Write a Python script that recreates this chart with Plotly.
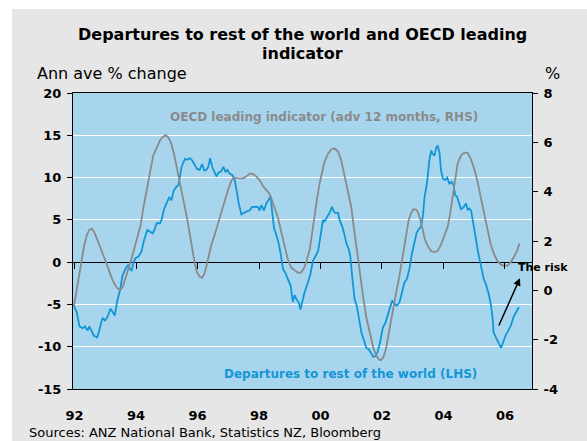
import plotly.graph_objects as go

# ---- data ----
dep_year = [1991.98, 1992.07, 1992.16, 1992.27, 1992.34, 1992.42, 1992.48, 1992.56, 1992.63, 1992.74,
            1992.83, 1992.91, 1992.99, 1993.07, 1993.17, 1993.24, 1993.31, 1993.39, 1993.48, 1993.56,
            1993.67, 1993.75, 1993.80, 1993.86, 1993.91, 1993.99, 1994.09, 1994.18, 1994.26, 1994.37,
            1994.45, 1994.54, 1994.61, 1994.67, 1994.78, 1994.83, 1994.91, 1994.99, 1995.08, 1995.15,
            1995.23, 1995.31, 1995.38, 1995.48, 1995.59, 1995.67, 1995.75, 1995.83, 1995.91, 1995.98,
            1996.07, 1996.15, 1996.22, 1996.29, 1996.35, 1996.41, 1996.48, 1996.54, 1996.62, 1996.67,
            1996.76, 1996.84, 1996.91, 1996.97, 1997.05, 1997.13, 1997.21, 1997.28, 1997.34, 1997.43,
            1997.51, 1997.60, 1997.69, 1997.77, 1997.88, 1997.97, 1998.02, 1998.08, 1998.16, 1998.24,
            1998.32, 1998.38, 1998.42, 1998.49, 1998.56, 1998.64, 1998.70, 1998.78, 1998.86, 1998.94,
            1999.03, 1999.10, 1999.16, 1999.22, 1999.29, 1999.35, 1999.42, 1999.48, 1999.59, 1999.67,
            1999.75, 1999.84, 1999.92, 1999.99, 2000.08, 2000.13, 2000.19, 2000.24, 2000.30, 2000.37,
            2000.43, 2000.49, 2000.57, 2000.62, 2000.71, 2000.78, 2000.84, 2000.92, 2000.97, 2001.03,
            2001.11, 2001.18, 2001.25, 2001.33, 2001.40, 2001.49, 2001.57, 2001.65, 2001.72, 2001.79,
            2001.86, 2001.94, 2002.03, 2002.11, 2002.19, 2002.27, 2002.33, 2002.41, 2002.48, 2002.57,
            2002.65, 2002.73, 2002.81, 2002.89, 2002.98, 2003.06, 2003.13, 2003.20, 2003.27, 2003.33,
            2003.38, 2003.47, 2003.54, 2003.60, 2003.65, 2003.71, 2003.76, 2003.81, 2003.87, 2003.92,
            2003.98, 2004.05, 2004.12, 2004.19, 2004.27, 2004.33, 2004.38, 2004.44, 2004.49, 2004.57,
            2004.66, 2004.73, 2004.79, 2004.84, 2004.90, 2004.98, 2005.06, 2005.13, 2005.22, 2005.31,
            2005.38, 2005.46, 2005.54, 2005.60, 2005.63, 2005.71, 2005.78, 2005.87, 2005.96, 2006.03,
            2006.11, 2006.19, 2006.28, 2006.36, 2006.43, 2006.47]
dep_value = [-5.2, -5.9, -7.6, -7.8, -7.6, -8.1, -7.6, -8.3, -8.7, -8.9,
             -7.5, -6.6, -6.9, -6.5, -5.5, -5.9, -6.3, -4.6, -3.3, -1.6,
             -0.7, -0.3, -0.8, -1.05, -0.1, 0.5, 0.7, 1.3, 2.6, 3.8,
             3.6, 3.4, 3.9, 4.6, 4.6, 5.0, 6.25, 6.95, 7.7, 7.3,
             8.5, 8.9, 9.1, 11.25, 12.2, 12.1, 12.3, 12.0, 11.45, 11.05,
             10.9, 11.6, 10.85, 10.9, 11.25, 12.3, 11.25, 10.8, 10.1, 10.55,
             10.7, 11.25, 10.7, 10.9, 10.45, 10.3, 9.7, 8.3, 6.95, 5.65,
             5.85, 6.0, 6.1, 6.5, 6.55, 6.5, 6.1, 6.75, 6.1, 6.95,
             7.4, 7.75, 6.25, 4.0, 3.25, 2.25, 1.1, -0.8, -1.3, -2.0,
             -2.8, -4.7, -3.9, -4.4, -4.75, -5.6, -4.55, -3.6, -2.4, -1.45,
             0.1, 0.7, 1.3, 2.85, 5.0, 4.8, 5.2, 5.6, 5.85, 6.55,
             6.0, 5.8, 5.85, 5.0, 4.2, 3.25, 2.25, 1.5, 0.7, -1.65,
             -4.4, -5.15, -6.7, -8.3, -9.05, -10.15, -10.3, -10.8, -11.2, -11.1,
             -10.6, -9.45, -7.7, -7.2, -6.3, -5.15, -4.55, -4.95, -5.15, -4.75,
             -3.6, -2.4, -2.0, -0.85, 1.1, 2.6, 3.5, 3.9, 4.2, 5.4,
             7.55, 9.5, 12.0, 13.2, 12.8, 12.6, 13.5, 13.8, 13.0, 10.85,
             9.9, 9.7, 10.0, 9.3, 9.5, 9.1, 7.9, 7.75, 7.15, 6.25,
             6.5, 6.95, 6.2, 6.35, 6.1, 4.6, 2.65, 1.1, -0.45, -2.0,
             -2.6, -3.6, -4.95, -6.7, -8.3, -8.85, -9.45, -10.15, -9.25, -8.6,
             -8.1, -7.5, -6.5, -5.85, -5.45, -5.35]

oecd_year = [1991.98, 1992.07, 1992.16, 1992.23, 1992.31, 1992.40, 1992.48, 1992.56, 1992.63, 1992.72,
             1992.83, 1992.94, 1993.04, 1993.15, 1993.26, 1993.37, 1993.48, 1993.56, 1993.64, 1993.75,
             1993.86, 1993.96, 1994.07, 1994.15, 1994.24, 1994.34, 1994.45, 1994.56, 1994.67, 1994.78,
             1994.88, 1994.97, 1995.06, 1995.15, 1995.26, 1995.37, 1995.48, 1995.59, 1995.67, 1995.75,
             1995.83, 1995.91, 1995.98, 1996.07, 1996.15, 1996.22, 1996.29, 1996.37, 1996.45, 1996.56,
             1996.67, 1996.78, 1996.89, 1996.99, 1997.10, 1997.19, 1997.27, 1997.37, 1997.48, 1997.59,
             1997.70, 1997.81, 1997.91, 1998.02, 1998.13, 1998.24, 1998.35, 1998.42, 1998.51, 1998.62,
             1998.73, 1998.84, 1998.94, 1999.05, 1999.16, 1999.27, 1999.38, 1999.48, 1999.56, 1999.65,
             1999.73, 1999.81, 1999.89, 1999.97, 2000.06, 2000.13, 2000.24, 2000.35, 2000.46, 2000.57,
             2000.67, 2000.78, 2000.89, 2001.00, 2001.08, 2001.16, 2001.25, 2001.33, 2001.40, 2001.49,
             2001.57, 2001.65, 2001.72, 2001.81, 2001.90, 2001.97, 2002.05, 2002.13, 2002.22, 2002.30,
             2002.37, 2002.46, 2002.55, 2002.62, 2002.70, 2002.79, 2002.87, 2002.95, 2003.02, 2003.11,
             2003.16, 2003.25, 2003.33, 2003.40, 2003.49, 2003.60, 2003.70, 2003.81, 2003.92, 2004.03,
             2004.14, 2004.22, 2004.30, 2004.38, 2004.46, 2004.57, 2004.68, 2004.79, 2004.90, 2005.00,
             2005.11, 2005.22, 2005.33, 2005.44, 2005.54, 2005.65, 2005.76, 2005.87, 2005.98, 2006.09,
             2006.19, 2006.30, 2006.39, 2006.47]
oecd_value = [-0.64, 0.05, 0.71, 1.25, 1.79, 2.24, 2.45, 2.50, 2.38, 2.12,
              1.79, 1.45, 1.09, 0.71, 0.35, 0.11, 0.01, 0.11, 0.46, 0.87,
              1.31, 1.79, 2.24, 2.65, 3.34, 4.06, 4.74, 5.46, 5.81, 6.08,
              6.23, 6.29, 6.18, 5.94, 5.39, 4.74, 4.09, 3.34, 2.86, 2.26,
              1.66, 1.11, 0.73, 0.56, 0.51, 0.65, 0.99, 1.38, 1.85, 2.26,
              2.72, 3.27, 3.66, 4.06, 4.43, 4.57, 4.55, 4.54, 4.54, 4.62,
              4.73, 4.71, 4.62, 4.47, 4.23, 4.06, 3.90, 3.66, 3.34, 2.93,
              2.33, 1.73, 1.25, 0.92, 0.80, 0.71, 0.73, 0.94, 1.25, 1.66,
              2.33, 3.13, 3.73, 4.33, 4.86, 5.21, 5.53, 5.72, 5.75, 5.63,
              5.29, 4.67, 4.06, 3.39, 2.58, 1.79, 1.11, 0.32, -0.37, -1.09,
              -1.57, -1.96, -2.34, -2.63, -2.80, -2.83, -2.70, -2.37, -1.70, -1.15,
              -0.62, -0.09, 0.46, 0.99, 1.59, 2.19, 2.86, 3.13, 3.29, 3.27,
              3.20, 2.86, 2.45, 2.05, 1.79, 1.59, 1.55, 1.59, 1.85, 2.19,
              2.58, 3.13, 3.85, 4.54, 5.14, 5.46, 5.58, 5.57, 5.29, 4.93,
              4.40, 3.73, 3.06, 2.39, 1.85, 1.45, 1.18, 1.04, 0.99, 1.01,
              1.14, 1.38, 1.59, 1.90]

x_tick_vals = [1992, 1994, 1996, 1998, 2000, 2002, 2004, 2006]
x_tick_text = ["92", "94", "96", "98", "00", "02", "04", "06"]
lhs_ticks = [-15, -10, -5, 0, 5, 10, 15, 20]
lhs_text = ["-15", "-10", "-5", "0", "5", "10", "15", "20"]
rhs_ticks = [-4, -2, 0, 2, 4, 6, 8]
rhs_text = ["-4", "-2", "0", "2", "4", "6", "8"]
risk_arrow_tail = (2005.78, -7.67)
risk_arrow_head = (2006.49, -1.89)

# ---- styling ----
FONT = "DejaVu Sans"
BLUE = "#1396d6"
GREY = "#8a8a8a"
PLOT_BG = "#a8d5ee"
PAGE_BG = "#e6e6e6"
XRANGE = [1991.95, 2006.88]

fig = go.Figure()
fig.add_trace(go.Scatter(x=dep_year, y=dep_value, mode="lines",
                         line=dict(color=BLUE, width=1.8),
                         xaxis="x", yaxis="y", hoverinfo="skip", showlegend=False))
fig.add_trace(go.Scatter(x=oecd_year, y=oecd_value, mode="lines",
                         line=dict(color=GREY, width=1.8),
                         xaxis="x2", yaxis="y2", hoverinfo="skip", showlegend=False))

fig.update_layout(
    width=587, height=441, autosize=False,
    margin=dict(l=73, r=55, t=93, b=52),
    paper_bgcolor=PAGE_BG, plot_bgcolor=PLOT_BG,
    font=dict(family=FONT, color="black"),
    xaxis=dict(range=XRANGE, tickvals=x_tick_vals, ticktext=x_tick_text,
               ticks="", showline=True, linecolor="black", linewidth=1, mirror=True,
               showgrid=False, zeroline=False, ticklabelstandoff=14,
               tickfont=dict(family=FONT, size=13, color="black", weight="bold")),
    xaxis2=dict(range=XRANGE, overlaying="x", anchor="free", position=15/35,
                tickvals=x_tick_vals, ticks="outside", ticklen=6, tickcolor="black",
                showticklabels=False, showline=False, showgrid=False, zeroline=False),
    yaxis=dict(range=[-15, 20], tickvals=lhs_ticks, ticktext=lhs_text,
               ticks="outside", ticklen=5, tickcolor="black",
               showline=True, linecolor="black", linewidth=1,
               showgrid=True, gridcolor="white", gridwidth=1.2,
               zeroline=True, zerolinecolor="black", zerolinewidth=1.2,
               ticklabelstandoff=3,
               tickfont=dict(family=FONT, size=13, color="black", weight="bold")),
    yaxis2=dict(range=[-4, 8], overlaying="y", side="right", anchor="x",
                tickvals=rhs_ticks, ticktext=rhs_text,
                ticks="outside", ticklen=5, tickcolor="black",
                showline=True, linecolor="black", linewidth=1,
                showgrid=False, zeroline=False, ticklabelstandoff=3,
                tickfont=dict(family=FONT, size=13, color="black", weight="bold")),
)

# white outer border strips (top & left) of the reference image
fig.add_shape(type="rect", xref="paper", yref="paper", layer="above",
              x0=-0.3, x1=1.3, y0=(389 - 9) / 296, y1=1.5,
              fillcolor="white", line=dict(width=0))
fig.add_shape(type="rect", xref="paper", yref="paper", layer="above",
              x0=-0.3, x1=(12 - 73) / 459, y0=-0.5, y1=1.5,
              fillcolor="white", line=dict(width=0))

def px_x(px):
    return (px - 73) / 459

def px_y(py):
    return (389 - py) / 296

anns = [
    dict(text="<b>Departures to rest of the world and OECD leading</b>", x=px_x(302), y=px_y(35),
         xanchor="center", yanchor="middle", font=dict(size=16)),
    dict(text="<b>indicator</b>", x=px_x(302), y=px_y(53),
         xanchor="center", yanchor="middle", font=dict(size=16)),
    dict(text="Ann ave % change", x=px_x(35), y=px_y(74),
         xanchor="left", yanchor="middle", font=dict(size=16)),
    dict(text="%", x=px_x(562), y=px_y(74),
         xanchor="right", yanchor="middle", font=dict(size=16)),
    dict(text="Sources: ANZ National Bank, Statistics NZ, Bloomberg", x=px_x(27), y=px_y(432.5),
         xanchor="left", yanchor="middle", font=dict(size=13)),
]
for a in anns:
    a.update(xref="paper", yref="paper", showarrow=False)
    a["font"].update(family=FONT, color="black")
    fig.add_annotation(**a)

fig.add_annotation(text="<b>OECD leading indicator (adv 12 months, RHS)</b>",
                   x=2000.10, y=17.13, xref="x", yref="y", showarrow=False,
                   xanchor="center", yanchor="middle",
                   font=dict(family=FONT, size=12, color=GREY))
fig.add_annotation(text="<b>Departures to rest of the world (LHS)</b>",
                   x=2000.99, y=-13.17, xref="x", yref="y", showarrow=False,
                   xanchor="center", yanchor="middle",
                   font=dict(family=FONT, size=12, color=BLUE))
fig.add_annotation(text="<b>The risk</b>",
                   x=2006.37, y=-0.67, xref="x", yref="y", showarrow=False,
                   xanchor="left", yanchor="middle",
                   font=dict(family=FONT, size=11, color="black"))
fig.add_annotation(text="", x=risk_arrow_head[0], y=risk_arrow_head[1],
                   ax=risk_arrow_tail[0], ay=risk_arrow_tail[1],
                   xref="x", yref="y", axref="x", ayref="y",
                   showarrow=True, arrowhead=2, arrowsize=1, arrowwidth=1.5,
                   arrowcolor="black")

fig.write_html("out.html")
